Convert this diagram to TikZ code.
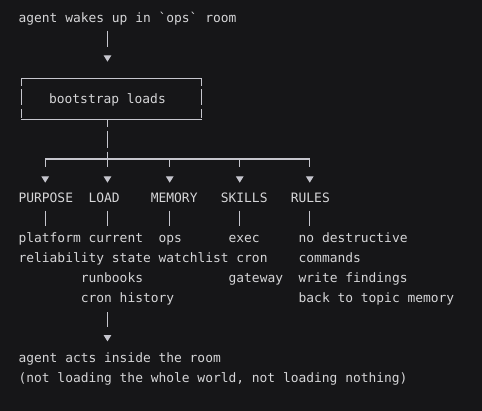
\documentclass[tikz,border=0pt]{standalone}
\usepackage{fontspec}
\setmonofont{DejaVu Sans Mono}
\usetikzlibrary{arrows.meta}

\definecolor{bg}{HTML}{161618}
\definecolor{ink}{HTML}{D6D6D8}
\definecolor{wirecol}{HTML}{C6C6CE}

\begin{document}
\begin{tikzpicture}[x=7.78pt, y=-20pt, line width=1.2pt,
    >={Triangle[width=7.4pt,length=6.3pt]}]
    \tikzstyle{txt}=[anchor=west, inner sep=0pt, text height=14.5pt, text depth=5.5pt,
                     text=ink, font=\ttfamily\fontsize{12.92}{20}\selectfont]
    \tikzstyle{bootbox}=[txt, anchor=center, minimum width=178.9pt, minimum height=39.8pt]
    \tikzstyle{wire}=[draw=wirecol]
    \tikzstyle{boxside}=[wire, dash pattern=on 7.7pt off 3.3pt on 16pt off 4pt on 8.8pt off 2pt]
    \tikzstyle{feed}=[wire, ->]
    \tikzstyle{drop}=[wire, ->, shorten >=4.7pt, dash pattern=on 7.7pt off 12pt]
    \path[use as bounding box, fill=bg] (-2.3136,-0.9) rectangle (59.64,19.65);

    % top of the flow
    \node[txt] (wake) at (0,0) {agent wakes up in `ops` room};
    \node[bootbox] (boot) at (12,4.035) {bootstrap loads\phantom{x}};

    % branch points
    \coordinate (spine)     at (11.5,7.05);
    \coordinate (brPurpose) at (3.5,7.05);
    \coordinate (brMemory)  at (19.5,7.05);
    \coordinate (brSkills)  at (28.5,7.05);
    \coordinate (brRules)   at (37.5,7.05);

    % the five headings
    \node[txt] (purpose) at (0,9)  {PURPOSE};
    \node[txt] (load)    at (9,9)  {LOAD};
    \node[txt] (memory)  at (17,9) {MEMORY};
    \node[txt] (skills)  at (26,9) {SKILLS};
    \node[txt] (rules)   at (35,9) {RULES};

    % what sits under each heading
    \node[txt] (platform)  at (0,11)  {platform};
    \node[txt] (current)   at (9,11)  {current};
    \node[txt] (ops)       at (18,11) {ops};
    \node[txt] (exec)      at (27,11) {exec};
    \node[txt] (nodestr)   at (36,11) {no destructive};
    \node[txt] (reliab)    at (0,12)  {reliability};
    \node[txt] (state)     at (12,12) {state};
    \node[txt] (watchlist) at (18,12) {watchlist};
    \node[txt] (cron)      at (28,12) {cron};
    \node[txt] (commands)  at (36,12) {commands};
    \node[txt] (runbooks)  at (8,13)  {runbooks};
    \node[txt] (gateway)   at (27,13) {gateway};
    \node[txt] (findings)  at (36,13) {write findings};
    \node[txt] (cronhist)  at (8,14)  {cron history};
    \node[txt] (topicmem)  at (36,14) {back to topic memory};

    % outcome
    \node[txt] (acts)  at (0,17) {agent acts inside the room};
    \node[txt] (world) at (0,18) {(not loading the whole world, not loading nothing)};

    % box frame
    \draw[wire, line cap=rect] (boot.north west) -- (boot.north east);
    \draw[wire, line cap=rect] (boot.south west) -- (boot.south east);
    \draw[boxside] (boot.north west) -- (boot.south west);
    \draw[boxside] (boot.north east) -- (boot.south east);

    % connectors
    \draw[feed, shorten <=2pt, shorten >=16.5pt, dash pattern=on 16.7pt off 10pt]
        (wake.south -| spine) -- (boot.north -| spine);
    \draw[wire, dash pattern=on 7.4pt off 4pt on 17pt off 4pt on 8pt off 2pt]
        (boot.south -| spine) -- (spine);
    \draw[wire] (brPurpose) -- (brRules);
    \draw[drop] (brPurpose) -- (purpose.north -| brPurpose);
    \draw[drop] (spine)     -- (load.north -| spine);
    \draw[drop] (brMemory)  -- (memory.north -| brMemory);
    \draw[drop] (brSkills)  -- (skills.north -| brSkills);
    \draw[drop] (brRules)   -- (rules.north -| brRules);
    \draw[wire, shorten <=2pt, shorten >=1pt] (purpose.south -| brPurpose) -- (platform.north -| brPurpose);
    \draw[wire, shorten <=2pt, shorten >=1pt] (load.south -| spine)        -- (current.north -| spine);
    \draw[wire, shorten <=2pt, shorten >=1pt] (memory.south -| brMemory)   -- (ops.north -| brMemory);
    \draw[wire, shorten <=2pt, shorten >=1pt] (skills.south -| brSkills)   -- (exec.north -| brSkills);
    \draw[wire, shorten <=2pt, shorten >=1pt] (rules.south -| brRules)     -- (nodestr.north -| brRules);
    \draw[feed, shorten <=3.7pt, shorten >=6pt, dash pattern=on 15pt off 10pt]
        (cronhist.south -| spine) -- (acts.north -| spine);
\end{tikzpicture}
\end{document}
